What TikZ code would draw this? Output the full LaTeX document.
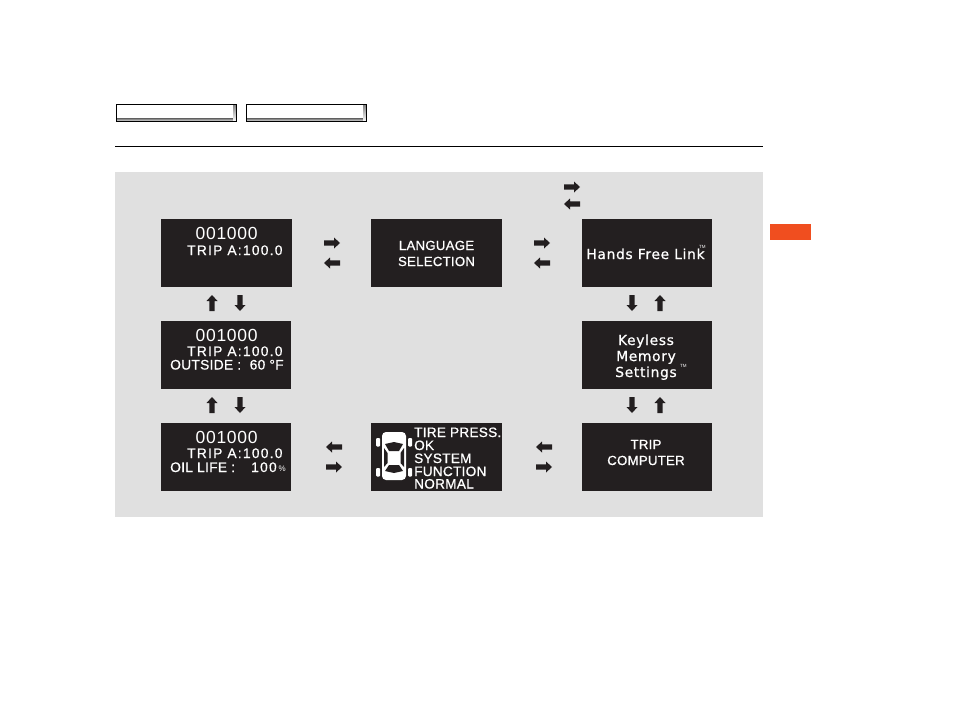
\documentclass[tikz,border=0pt]{standalone}
\usepackage{fontspec}
\setmainfont{Liberation Sans}
\newfontfamily\lcd[LetterSpace=9,FakeBold=0.6]{Liberation Sans}
\newfontfamily\lcdn[LetterSpace=2,FakeBold=0.6]{Liberation Sans}
\newfontfamily\lcdw[LetterSpace=4]{Liberation Sans}
\newfontfamily\lcdd[LetterSpace=5,FakeBold=0.8]{DejaVu Sans}
\newfontfamily\lcdc[LetterSpace=2,FakeBold=0.8]{Liberation Sans}
\definecolor{panel}{HTML}{E0E0E0}
\definecolor{ink}{HTML}{231F20}
\definecolor{tab}{HTML}{F04E1F}
\definecolor{shade}{HTML}{C4C4C4}
\tikzset{
  x=1pt,y=-1pt,
  screen/.style={fill=ink,draw=none,minimum width=131pt,minimum height=68pt,inner sep=0pt,outer sep=0pt},
  screenn/.style={screen,minimum width=130pt},
  lbl/.style={text=white,anchor=base west,inner sep=0pt,font=\lcd\fontsize{13.8}{14}\selectfont},
  lbln/.style={text=white,anchor=base west,inner sep=0pt,font=\lcdn\fontsize{13.8}{14}\selectfont},
  num/.style={text=white,anchor=base west,inner sep=0pt,font=\lcdw\fontsize{17.5}{16}\selectfont},
  big/.style={text=white,anchor=base,inner sep=0pt,font=\lcdd\fontsize{13.8}{14}\selectfont},
  capsl/.style={text=white,anchor=base,inner sep=0pt,font=\lcdc\fontsize{13.2}{14}\selectfont},
  small/.style={text=white,anchor=base west,inner sep=0pt,font=\lcdc\fontsize{13.6}{13}\selectfont},
  tm/.style={text=white,anchor=base west,inner sep=0pt,font=\fontsize{4.5}{5}\selectfont},
  pics/btn/.style={code={\fill[ink] (-8,-2.6)--(2,-2.6)--(2,-5.5)--(8,0)--(2,5.5)--(2,2.6)--(-8,2.6)--cycle;}},
  tabbox/.style={fill=white,minimum width=120pt,minimum height=17.5pt,inner sep=0pt,outer sep=0pt},
  tabedge/.style={draw=black,line width=0.9pt}
}
\begin{document}
\begin{tikzpicture}
\useasboundingbox (0,0) rectangle (954,709);
\fill[white] (0,0) rectangle (954,709);
% header tabs
\node[tabbox] (t1) at (176,113) {};
\node[tabbox] (t2) at (306,113) {};
\foreach \t in {t1,t2}{
  \fill[shade] ([yshift=3pt]\t.south west) rectangle (\t.south east);
  \fill[shade] ([xshift=-3pt]\t.south east) rectangle (\t.north east);
  \draw[tabedge] (\t.south west) rectangle (\t.north east);
}
\draw[black,line width=0.7pt] (115,146.5) -- (763,146.5);
\fill[panel] (115,172) rectangle (763,517);
\fill[tab] (770,224) rectangle (811,240);
% screens
\node[screen] (a1) at (226.5,253) {};
\node[screenn] (a2) at (226,355) {};
\node[screenn] (a3) at (226,457) {};
\node[screen] (b1) at (436.5,253) {};
\node[screen] (b3) at (436.5,457) {};
\node[screenn] (c1) at (647,253) {};
\node[screenn] (c2) at (647,355) {};
\node[screenn] (c3) at (647,457) {};
% a1
\node[num] (a1n) at (195.5,239) {001000};
\node[lbl] (a1t) at (187,255) {TRIP A:100.0};
% a2
\node[num] (a2n) at (195.5,341) {001000};
\node[lbl] (a2t) at (187,356) {TRIP A:100.0};
\node[lbln] (a2o) at (170,369.5) {OUTSIDE :};
\node[lbln] (a2v) at (249.5,369.5) {60 °F};
% a3
\node[num] (a3n) at (195.5,443) {001000};
\node[lbl] (a3t) at (187,458) {TRIP A:100.0};
\node[lbln] (a3o) at (170,472) {OIL LIFE :};
\node[lbl] (a3v) at (251,472) {100};
\node[tm] (a3p) at (278.5,471.5) {\fontsize{8}{8}\selectfont\%};
% b1
\node[capsl] (b1a) at (436.5,250) {LANGUAGE};
\node[capsl] (b1b) at (436.5,266) {SELECTION};
% c1
\node[big] (c1a) at (645.5,259) {Hands Free Link};
\node[tm] (c1t) at (699,248) {TM};
% c2
\node[big] (c2a) at (646,345) {Keyless};
\node[big] (c2b) at (646,361) {Memory};
\node[big] (c2c) at (646,377) {Settings};
\node[tm] (c2t) at (680,367) {TM};
% c3
\node[capsl] (c3a) at (646,449) {TRIP};
\node[capsl] (c3b) at (646,465) {COMPUTER};
% b3 text
\node[small] (b3a) at (414,437) {TIRE PRESS.};
\node[small] (b3b) at (414,450) {OK};
\node[small] (b3c) at (414,463) {SYSTEM};
\node[small] (b3d) at (414,476) {FUNCTION};
\node[small] (b3e) at (414,488.5) {NORMAL};
% car icon
\begin{scope}[shift={(394,456)}]
  \fill[white,rounded corners=4pt] (-12,-24) rectangle (12,24);
  \fill[ink] (-9,-12) -- (0,-14) -- (9,-12) -- (5,-5) -- (-5,-5) -- cycle;
  \fill[ink] (-5,9) -- (5,9) -- (9,15) -- (0,17) -- (-9,15) -- cycle;
  \fill[ink] (-10,-8) -- (-6.5,-3) -- (-6.5,7) -- (-10,11) -- cycle;
  \fill[ink] (10,-8) -- (6.5,-3) -- (6.5,7) -- (10,11) -- cycle;
  \foreach \sx/\sy in {-18/-18,14/-18,-18/12,14/12}{
    \fill[white,rounded corners=1pt] (\sx,\sy) rectangle ++(4,8.5);
  }
\end{scope}
% buttons
\pic at (332,243) {btn};
\pic[rotate=180] at (332,263) {btn};
\pic at (542,243) {btn};
\pic[rotate=180] at (542,263) {btn};
\pic at (572,187) {btn};
\pic[rotate=180] at (572,204) {btn};
\pic[rotate=180] at (334,447) {btn};
\pic at (334,467) {btn};
\pic[rotate=180] at (544,447) {btn};
\pic at (544,467) {btn};
\pic[rotate=90] at (212,303) {btn};
\pic[rotate=-90] at (240,303) {btn};
\pic[rotate=90] at (212,405) {btn};
\pic[rotate=-90] at (240,405) {btn};
\pic[rotate=-90] at (632,303) {btn};
\pic[rotate=90] at (660,303) {btn};
\pic[rotate=-90] at (632,405) {btn};
\pic[rotate=90] at (660,405) {btn};
\end{tikzpicture}
\end{document}
